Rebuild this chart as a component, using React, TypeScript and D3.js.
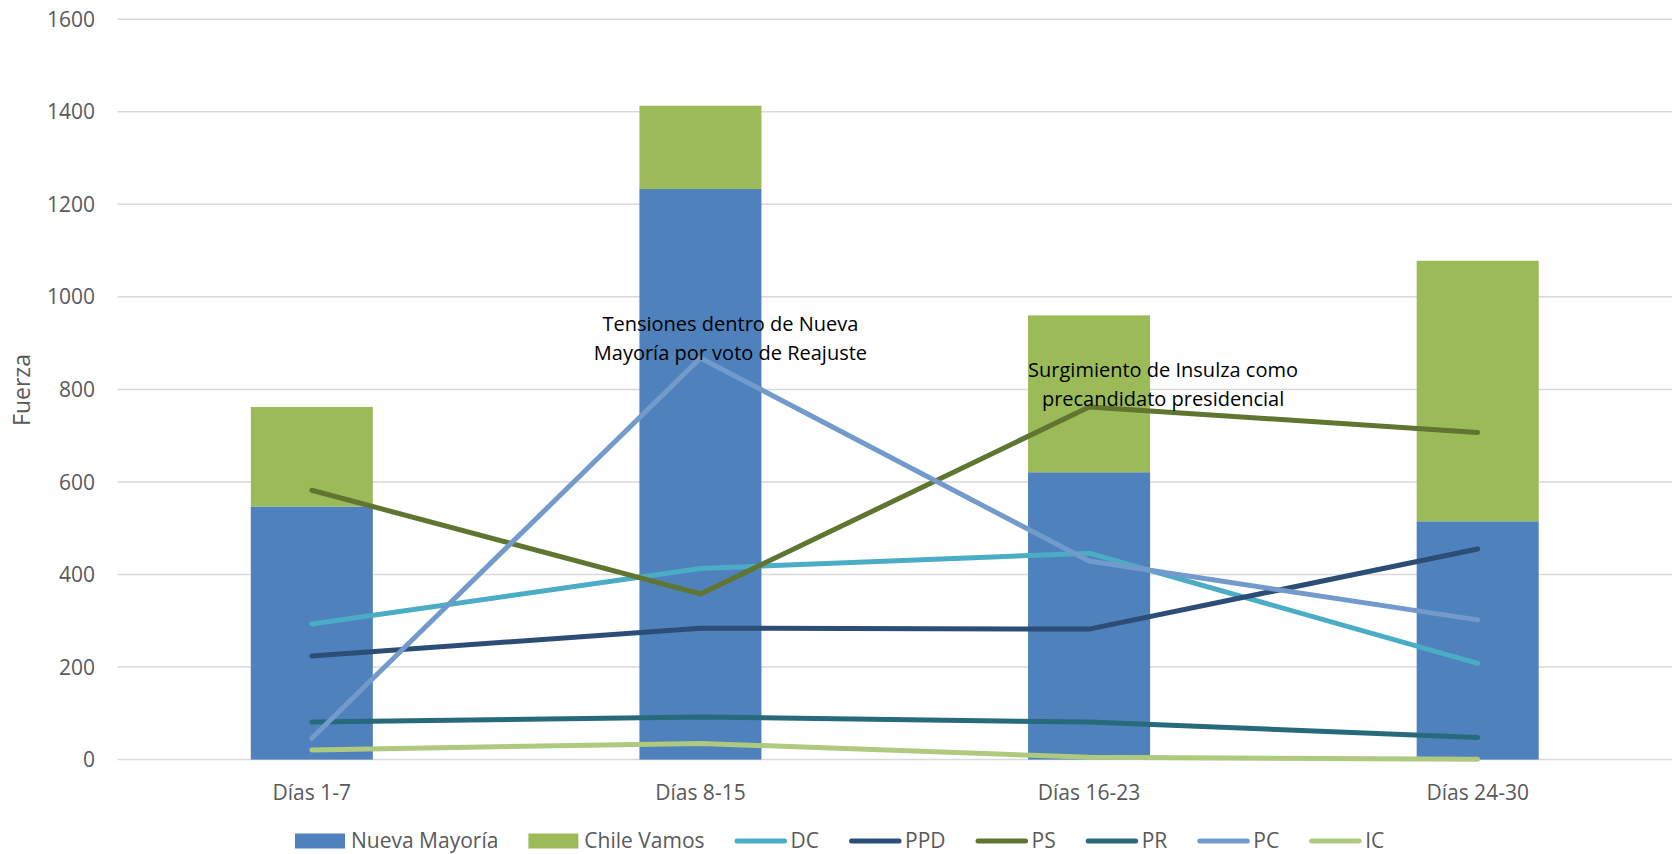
import * as d3 from "d3";
import React from "react";

const categories = ["Días 1-7", "Días 8-15", "Días 16-23", "Días 24-30"];
const nuevaMayoria = [547, 1233, 621, 515];
const chileVamos = [215, 180, 339, 563];

const dc = [293, 413, 446, 208];
const ppd = [224, 284, 282, 455];
const ps = [582, 358, 762, 707];
const pr = [81, 92, 81, 48];
const pc = [46, 868, 429, 302];
const ic = [21, 35, 5, 1];

const yTicks = [0, 200, 400, 600, 800, 1000, 1200, 1400, 1600];

const annotations = [
  { cat: "Días 8-15", value: 868, dx: 30, dy: -27, lines: ["Tensiones dentro de Nueva", "Mayoría por voto de Reajuste"] },
  { cat: "Días 16-23", value: 762, dx: 74, dy: -30, lines: ["Surgimiento de Insulza como", "precandidato presidencial"] },
];

const width = 1675;
const height = 854;
const font = "'Open Sans', sans-serif";

function App() {
  const x = d3
    .scaleBand<string>()
    .domain(categories)
    .range([117.5, 1672])
    .paddingInner(0.686)
    .paddingOuter(0.343);
  const y = d3.scaleLinear().domain([0, 1600]).range([759.6, 19.2]);
  const cx = (c: string) => (x(c) as number) + x.bandwidth() / 2;

  const bars = [
    { name: "Nueva Mayoría", color: "#4F81BD", values: nuevaMayoria },
    { name: "Chile Vamos", color: "#9BBB59", values: chileVamos },
  ];
  const stack = d3
    .stack<number>()
    .keys([0, 1].map(String))
    .value((i, k) => bars[+k].values[i])(d3.range(categories.length));

  const lines = [
    { name: "DC", color: "#4BACC6", values: dc },
    { name: "PPD", color: "#2C4D75", values: ppd },
    { name: "PS", color: "#5F7530", values: ps },
    { name: "PR", color: "#276A7C", values: pr },
    { name: "PC", color: "#729ACA", values: pc },
    { name: "IC", color: "#AFCA7E", values: ic },
  ];

  const lineGen = d3
    .line<number>()
    .x((_, i) => cx(categories[i]))
    .y((d) => y(d));

  // legend layout, measured text widths
  const ctx = document.createElement("canvas").getContext("2d")!;
  ctx.font = `21px ${font}`;
  const legendItems = [
    ...bars.map((b) => ({ ...b, kind: "rect" })),
    ...lines.map((l) => ({ ...l, kind: "line" })),
  ];
  let lx = 295;
  const legendPos = legendItems.map((it) => {
    const pos = lx;
    lx += 56 + ctx.measureText(it.name).width + 30;
    return pos;
  });

  return (
    <svg
      width={width}
      height={height}
      style={{ position: "absolute", left: 0, top: 0, background: "#fff" }}
      fontFamily={font}
    >
      {yTicks.map((t) => (
        <g key={t}>
          <line x1={117.5} x2={1672} y1={y(t)} y2={y(t)} stroke="#D9D9D9" strokeWidth={1.5} />
          <text x={95} y={y(t)} dy="0.36em" textAnchor="end" fontSize={21} fill="#595959">
            {t}
          </text>
        </g>
      ))}
      {stack.map((layer, k) =>
        layer.map((d, i) => (
          <rect
            key={`${k}-${i}`}
            x={x(categories[i])}
            width={x.bandwidth()}
            y={y(d[1])}
            height={y(d[0]) - y(d[1])}
            fill={bars[k].color}
          />
        )),
      )}
      {lines.map((l) => (
        <path
          key={l.name}
          d={lineGen(l.values) as string}
          fill="none"
          stroke={l.color}
          strokeWidth={5}
          strokeLinecap="round"
          strokeLinejoin="round"
        />
      ))}
      {categories.map((c) => (
        <text key={c} x={cx(c)} y={792} dy="0.36em" textAnchor="middle" fontSize={21} fill="#595959">
          {c}
        </text>
      ))}
      <text
        transform={`translate(22,390) rotate(-90)`}
        textAnchor="middle"
        dy="0.36em"
        fontSize={23}
        fill="#595959"
      >
        Fuerza
      </text>
      {annotations.map((a, j) => (
        <text
          key={j}
          y={y(a.value) + a.dy}
          textAnchor="middle"
          fontSize={20}
          fill="#000"
        >
          {a.lines.map((ln, i) => (
            <tspan key={i} x={cx(a.cat) + a.dx} dy={i === 0 ? 0 : 29}>
              {ln}
            </tspan>
          ))}
        </text>
      ))}
      {legendItems.map((it, i) => (
        <g key={it.name} transform={`translate(${legendPos[i]},841)`}>
          {it.kind === "rect" ? (
            <rect x={0} y={-7.5} width={50} height={15} fill={it.color} />
          ) : (
            <line x1={2.5} x2={50} y1={0} y2={0} stroke={it.color} strokeWidth={5} strokeLinecap="round" />
          )}
          <text x={56} y={0} dy="0.34em" fontSize={21} fill="#595959">
            {it.name}
          </text>
        </g>
      ))}
    </svg>
  );
}

export default App;
